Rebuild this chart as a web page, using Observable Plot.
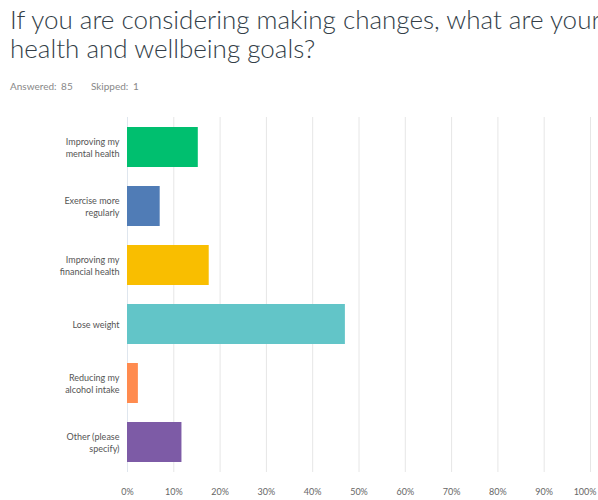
<!DOCTYPE html>
<html>
<head>
<meta charset="utf-8">
<script src="https://cdn.jsdelivr.net/npm/d3@7"></script>
<script src="https://cdn.jsdelivr.net/npm/@observablehq/plot@0.6"></script>
<style>
  html, body { margin: 0; padding: 0; background: #fff; overflow: hidden; width: 598px; height: 500px; position: relative; }
  #title { position: absolute; left: 10px; top: 5px; font-family: Lato, "Open Sans", sans-serif; font-size: 26px; font-weight: 300; color: #333e48; line-height: 29px; width: 700px; white-space: nowrap; }
  #sub { position: absolute; left: 10px; top: 80px; font-family: Lato, sans-serif; font-size: 10px; color: #888; word-spacing: 2px; }
  #chart { position: absolute; left: 0; top: 100px; }
</style>
</head>
<body>
<div id="title">If you are considering making changes, what are your<br>health and wellbeing goals?</div>
<div id="sub">Answered: 85 &nbsp;&nbsp; Skipped: 1</div>
<div id="chart"></div>
<script>
const categories = [
  "Improving my mental health",
  "Exercise more regularly",
  "Improving my financial health",
  "Lose weight",
  "Reducing my alcohol intake",
  "Other (please specify)"
];
const labelLines = [
  "Improving my\nmental health",
  "Exercise more\nregularly",
  "Improving my\nfinancial health",
  "Lose weight",
  "Reducing my\nalcohol intake",
  "Other (please\nspecify)"
];
const values = [15.29, 7.06, 17.65, 47.06, 2.35, 11.76];
const colors = ["#00bf6f", "#507cb6", "#f9be00", "#62c5c8", "#ff8b4f", "#7d5ba6"];
const xTicks = [0, 10, 20, 30, 40, 50, 60, 70, 80, 90, 100];

const data = categories.map((c, i) => ({ category: c, label: labelLines[i], value: values[i], color: colors[i] }));
const labelOf = new Map(data.map(d => [d.category, d.label]));

const chart = Plot.plot({
  width: 598,
  height: 400,
  marginLeft: 127,
  marginRight: 8,
  marginTop: 17,
  marginBottom: 28,
  style: { fontFamily: "Lato, 'Open Sans', sans-serif", fontSize: "9px", color: "#555", background: "#fff" },
  x: { domain: [0, 100], label: null },
  y: { domain: categories, paddingInner: 0.32, paddingOuter: 0.16, label: null },
  marks: [
    Plot.gridX(xTicks, { stroke: "#e6e6e6", strokeOpacity: 1 }),
    Plot.ruleX([0], { stroke: "#dfe6ee" }),
    Plot.barX(data, { x: "value", y: "category", fill: "color" }),
    Plot.axisX(xTicks.slice(0, -1), { tickSize: 0, tickPadding: 16, tickFormat: d => d + "%", fill: "#666", label: null }),
    Plot.axisX(xTicks.slice(-1), { tickSize: 0, tickPadding: 16, tickFormat: d => d + "%", fill: "#666", textAnchor: "end", dx: 6, label: null }),
    Plot.axisY({ tickSize: 0, tickPadding: 8, tickFormat: d => labelOf.get(d), fill: "#555", lineHeight: 1.3, label: null })
  ]
});
document.getElementById("chart").appendChild(chart);
</script>
</body>
</html>
